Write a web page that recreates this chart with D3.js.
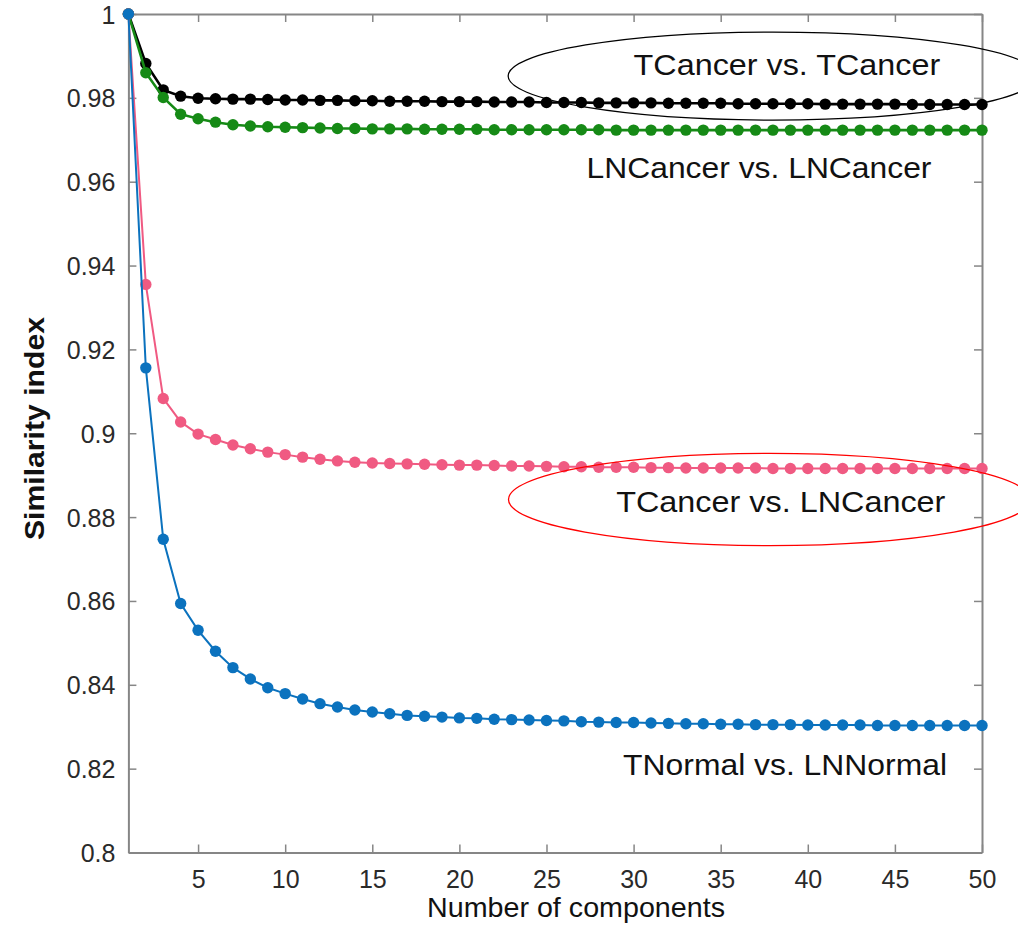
<!DOCTYPE html>
<html>
<head>
<meta charset="utf-8">
<script src="https://cdn.jsdelivr.net/npm/d3@7"></script>
<style>
html,body{margin:0;padding:0;background:#fff;}
text{font-family:"Liberation Sans",Arial,sans-serif;}
</style>
</head>
<body>
<svg id="chart" width="1018" height="925"></svg>
<script>
const components = d3.range(1, 51);
const tcancerVsTcancer = [1.0000,0.9882,0.9819,0.9804,0.9799,0.9798,0.9797,0.9797,0.9796,0.9795,
0.9795,0.9794,0.9794,0.9793,0.9793,0.9792,0.9792,0.9792,0.9791,0.9791,
0.9791,0.9790,0.9790,0.9790,0.9789,0.9789,0.9789,0.9788,0.9788,0.9788,
0.9788,0.9787,0.9787,0.9787,0.9787,0.9786,0.9786,0.9786,0.9786,0.9786,
0.9785,0.9785,0.9785,0.9785,0.9785,0.9784,0.9784,0.9784,0.9784,0.9784];
const lncancerVsLncancer = [1.0000,0.9860,0.9801,0.9761,0.9750,0.9742,0.9736,0.9733,0.9731,0.9730,
0.9729,0.9728,0.9727,0.9727,0.9726,0.9726,0.9726,0.9725,0.9725,0.9725,
0.9725,0.9724,0.9724,0.9724,0.9724,0.9724,0.9724,0.9724,0.9723,0.9723,
0.9723,0.9723,0.9723,0.9723,0.9723,0.9723,0.9723,0.9723,0.9723,0.9723,
0.9723,0.9723,0.9723,0.9723,0.9723,0.9723,0.9723,0.9723,0.9723,0.9723];
const tcancerVsLncancer = [1.0000,0.9355,0.9083,0.9027,0.8998,0.8985,0.8972,0.8963,0.8955,0.8949,
0.8943,0.8938,0.8934,0.8931,0.8929,0.8928,0.8927,0.8926,0.8925,0.8924,
0.8924,0.8923,0.8922,0.8922,0.8921,0.8920,0.8920,0.8919,0.8919,0.8919,
0.8918,0.8918,0.8917,0.8917,0.8917,0.8917,0.8917,0.8916,0.8916,0.8916,
0.8916,0.8916,0.8916,0.8916,0.8916,0.8916,0.8916,0.8916,0.8916,0.8916];
const tnormalVsLnnormal = [1.0000,0.9156,0.8747,0.8594,0.8530,0.8480,0.8441,0.8414,0.8393,0.8379,
0.8366,0.8355,0.8347,0.8340,0.8335,0.8331,0.8327,0.8325,0.8323,0.8321,
0.8320,0.8318,0.8317,0.8316,0.8315,0.8314,0.8312,0.8311,0.8310,0.8310,
0.8309,0.8308,0.8307,0.8307,0.8306,0.8306,0.8305,0.8305,0.8305,0.8304,
0.8304,0.8304,0.8304,0.8303,0.8303,0.8303,0.8303,0.8303,0.8303,0.8303];
const xTicks = [5,10,15,20,25,30,35,40,45,50];
const yTicks = [0.8,0.82,0.84,0.86,0.88,0.9,0.92,0.94,0.96,0.98,1];
const seriesNames = ["TCancer vs. TCancer","LNCancer vs. LNCancer","TCancer vs. LNCancer","TNormal vs. LNNormal"];

const svg = d3.select("#chart");
const L = 128.4, R = 982, T = 14, B = 852.5;
const x = d3.scaleLinear().domain([1, 50]).range([L, R]);
const y = d3.scaleLinear().domain([0.8, 1]).range([B, T]);
const axisColor = "#868686";
const tickLen = 8;
const fmt = d => String(+d.toFixed(2));

// axes box with inward ticks
const gB = svg.append("g").attr("transform", `translate(0,${B})`)
  .call(d3.axisBottom(x).tickValues(xTicks).tickSizeInner(-tickLen).tickSizeOuter(0).tickPadding(18).tickFormat(d3.format("d")));
const gT = svg.append("g").attr("transform", `translate(0,${T})`)
  .call(d3.axisTop(x).tickValues(xTicks).tickSizeInner(-tickLen).tickSizeOuter(0).tickFormat(""));
const gL = svg.append("g").attr("transform", `translate(${L},0)`)
  .call(d3.axisLeft(y).tickValues(yTicks).tickSizeInner(-tickLen).tickSizeOuter(0).tickPadding(13).tickFormat(fmt));
const gR = svg.append("g").attr("transform", `translate(${R},0)`)
  .call(d3.axisRight(y).tickValues(yTicks).tickSizeInner(-tickLen).tickSizeOuter(0).tickFormat(""));
[gB, gT, gL, gR].forEach(g => {
  g.select(".domain").attr("stroke", axisColor).attr("stroke-width", 2);
  g.selectAll(".tick line").attr("stroke", axisColor).attr("stroke-width", 1.5);
  g.selectAll(".tick text").attr("fill", "#2a2a2a").style("font-size", "25px");
});
gB.selectAll(".tick text").attr("dy", "0.71em");
gL.selectAll(".tick text").attr("dy", "0.36em");

// axis labels
svg.append("text").attr("x", (427 + 725) / 2).attr("y", 917).attr("text-anchor", "middle")
  .attr("fill", "#111").style("font-size", "28px").attr("textLength", 298).attr("lengthAdjust", "spacingAndGlyphs")
  .text("Number of components");
svg.append("text").attr("transform", `translate(44,${(317 + 540) / 2}) rotate(-90)`).attr("text-anchor", "middle")
  .attr("fill", "#111").style("font-size", "27px").style("font-weight", "bold")
  .attr("textLength", 223).attr("lengthAdjust", "spacingAndGlyphs")
  .text("Similarity index");

// series
const series = [
  {name: seriesNames[0], values: tcancerVsTcancer, color: "#000000", w: 2.6},
  {name: seriesNames[1], values: lncancerVsLncancer, color: "#168A16", w: 2.6},
  {name: seriesNames[2], values: tcancerVsLncancer, color: "#F05A82", w: 2},
  {name: seriesNames[3], values: tnormalVsLnnormal, color: "#0B72BE", w: 2}
];
const line = d3.line().x((d, i) => x(components[i])).y(d => y(d));
series.forEach(s => {
  const g = svg.append("g");
  g.append("path").attr("d", line(s.values)).attr("fill", "none").attr("stroke", s.color).attr("stroke-width", s.w);
  g.selectAll("circle").data(s.values).join("circle")
    .attr("cx", (d, i) => x(components[i])).attr("cy", d => y(d)).attr("r", 5.7).attr("fill", s.color);
});

// annotation labels (data coordinates)
const labels = [
  {text: seriesNames[0], x0: 30.0, x1: 47.6, yv: 0.98544},
  {text: seriesNames[1], x0: 27.3, x1: 47.1, yv: 0.96086},
  {text: seriesNames[2], x0: 29.0, x1: 47.9, yv: 0.88115},
  {text: seriesNames[3], x0: 29.4, x1: 47.99, yv: 0.81838}
];
labels.forEach(l => {
  svg.append("text").attr("x", x(l.x0)).attr("y", y(l.yv)).attr("fill", "#111")
    .style("font-size", "30px").attr("textLength", x(l.x1) - x(l.x0)).attr("lengthAdjust", "spacingAndGlyphs")
    .text(l.text);
});

// highlight ellipses (data coordinates)
const ellipses = [
  {cx: 38.0, cy: 0.9852, rx: 15.2, ry: 0.0105, color: "#000000"},
  {cx: 37.8, cy: 0.8842, rx: 14.98, ry: 0.0110, color: "#FF0000"}
];
ellipses.forEach(e => {
  svg.append("ellipse").attr("cx", x(e.cx)).attr("cy", y(e.cy))
    .attr("rx", x(1 + e.rx) - x(1)).attr("ry", y(0.8) - y(0.8 + e.ry))
    .attr("fill", "none").attr("stroke", e.color).attr("stroke-width", 1.3);
});
</script>
</body>
</html>
